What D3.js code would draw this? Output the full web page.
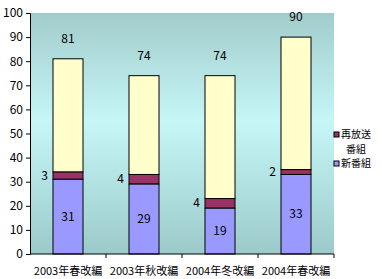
<!DOCTYPE html>
<html>
<head>
<meta charset="utf-8">
<script src="https://cdn.jsdelivr.net/npm/d3@7"></script>
<style>
  body { margin: 0; background: #fff; }
  text { font-family: "Noto Sans CJK JP", "DejaVu Sans", sans-serif; }
</style>
</head>
<body>
<div id="chart"></div>
<script>
var categories = ['2003年春改編', '2003年秋改編', '2004年冬改編', '2004年春改編'];
var newShows = [31, 29, 19, 33];
var reruns = [3, 4, 4, 2];
var totals = [81, 74, 74, 90];
var yTicks = [0, 10, 20, 30, 40, 50, 60, 70, 80, 90, 100];

var width = 382, height = 279;
var margin = {top: 13, right: 48, bottom: 25, left: 30};

var svg = d3.select('#chart')
    .append('svg')
    .attr('width', width)
    .attr('height', height);

var defs = svg.append('defs');
var grad = defs.append('linearGradient')
    .attr('id', 'bg')
    .attr('x1', 0).attr('y1', 0).attr('x2', 0).attr('y2', 1);
grad.append('stop').attr('offset', '0%').attr('stop-color', '#a2cccc');
grad.append('stop').attr('offset', '45%').attr('stop-color', '#c6f6f6');
grad.append('stop').attr('offset', '100%').attr('stop-color', '#9ccaca');

var x = d3.scaleBand()
    .domain(categories)
    .range([margin.left, width - margin.right]);

var y = d3.scaleLinear()
    .domain([0, 100])
    .range([height - margin.bottom, margin.top]);

svg.append('rect')
    .attr('x', x.range()[0])
    .attr('y', y(100))
    .attr('width', x.range()[1] - x.range()[0])
    .attr('height', y(0) - y(100))
    .attr('fill', 'url(#bg)');

var data = categories.map(function(c, i) {
    return {cat: c, neu: newShows[i], re: reruns[i], total: totals[i]};
});

var barW = 30;
var bars = svg.selectAll('g.bar')
    .data(data)
    .enter()
      .append('g')
      .attr('class', 'bar')
      .attr('transform', function(d) {
          return 'translate(' + (x(d.cat) + x.bandwidth() / 2 - barW / 2) + ',0)';
      });

// other (remainder) segment
bars.append('rect')
    .attr('y', function(d) { return y(d.total); })
    .attr('height', function(d) { return y(d.neu + d.re) - y(d.total); })
    .attr('width', barW)
    .attr('fill', '#ffffcc')
    .attr('stroke', '#000');

bars.append('rect')
    .attr('y', function(d) { return y(d.neu + d.re); })
    .attr('height', function(d) { return y(d.neu) - y(d.neu + d.re); })
    .attr('width', barW)
    .attr('fill', '#993366')
    .attr('stroke', '#000');

bars.append('rect')
    .attr('y', function(d) { return y(d.neu); })
    .attr('height', function(d) { return y(0) - y(d.neu); })
    .attr('width', barW)
    .attr('fill', '#9999ff')
    .attr('stroke', '#000');

bars.append('text')
    .attr('x', barW / 2)
    .attr('y', function(d) { return y(d.neu / 2) + 4; })
    .attr('text-anchor', 'middle')
    .attr('font-size', 12)
    .text(function(d) { return d.neu; });

bars.append('text')
    .attr('x', -5)
    .attr('y', function(d) { return y(d.neu + d.re / 2) + 4; })
    .attr('text-anchor', 'end')
    .attr('font-size', 12)
    .text(function(d) { return d.re; });

bars.append('text')
    .attr('x', barW / 2)
    .attr('y', function(d) { return y(d.total) - 16; })
    .attr('text-anchor', 'middle')
    .attr('font-size', 12)
    .text(function(d) { return d.total; });

// y axis
var yAxis = svg.append('g')
    .attr('transform', 'translate(' + margin.left + ',0)')
    .call(d3.axisLeft(y).tickValues(yTicks).tickSize(4).tickPadding(3));
yAxis.selectAll('text').attr('font-size', 12).attr('fill', '#000');
yAxis.select('.domain').attr('stroke', '#000');

// x axis
var xAxis = svg.append('g')
    .attr('transform', 'translate(0,' + y(0) + ')');
xAxis.append('line')
    .attr('x1', x.range()[0]).attr('x2', x.range()[1])
    .attr('stroke', '#000');
xAxis.selectAll('line.tick')
    .data(categories.slice(1).concat(['end']))
    .enter()
      .append('line')
      .attr('class', 'tick')
      .attr('x1', function(d, i) { return x.range()[0] + x.step() * (i + 1); })
      .attr('x2', function(d, i) { return x.range()[0] + x.step() * (i + 1); })
      .attr('y2', 4)
      .attr('stroke', '#000');
xAxis.selectAll('text')
    .data(categories)
    .enter()
      .append('text')
      .attr('x', function(d) { return x(d) + x.bandwidth() / 2; })
      .attr('y', 21)
      .attr('text-anchor', 'middle')
      .attr('font-size', 11)
      .text(function(d) { return d; });

// legend
var legend = svg.append('g').attr('transform', 'translate(334,131)');
legend.append('rect').attr('x', 0).attr('y', 1).attr('width', 5).attr('height', 5)
    .attr('fill', '#993366').attr('stroke', '#000');
legend.append('text').attr('x', 7).attr('y', 7).attr('font-size', 10).text('再放送');
legend.append('text').attr('x', 12).attr('y', 21.5).attr('font-size', 10).text('番組');
legend.append('rect').attr('x', 0).attr('y', 30).attr('width', 5).attr('height', 5)
    .attr('fill', '#9999ff').attr('stroke', '#000');
legend.append('text').attr('x', 7).attr('y', 36).attr('font-size', 10).text('新番組');
</script>
</body>
</html>
